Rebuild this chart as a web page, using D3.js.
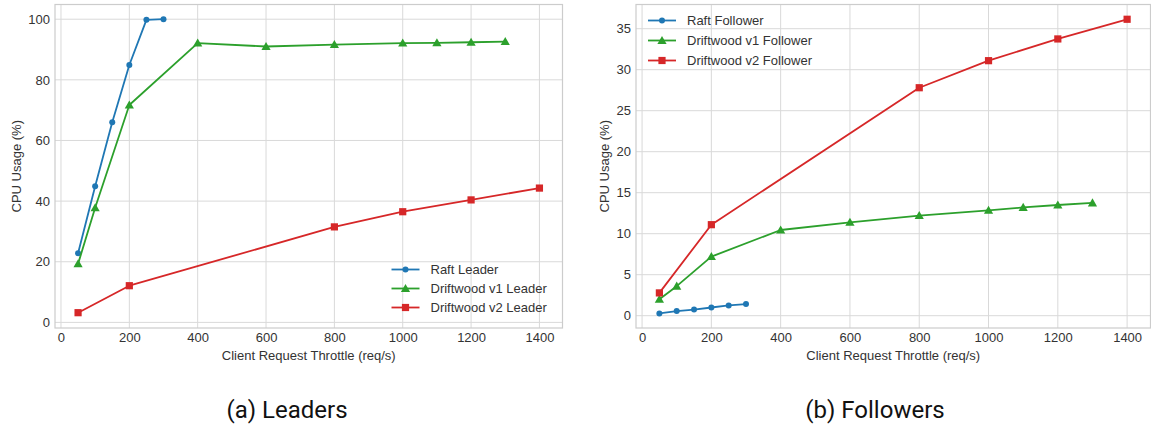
<!DOCTYPE html>
<html><head><meta charset="utf-8">
<script src="https://cdn.jsdelivr.net/npm/d3@7"></script>
<style>
body{margin:0;background:#fff;}
svg{display:block;}
svg text{font-family:"Liberation Sans",Arial,sans-serif;}
svg text.cap{font-family:Roboto,sans-serif;}
</style></head>
<body><svg id="c" width="1151" height="427"></svg>
<script>
// ---- data ----
const xTicks = [0,200,400,600,800,1000,1200,1400];
const leaderYTicks = [0,20,40,60,80,100];
const followerYTicks = [0,5,10,15,20,25,30,35];

const raftLeaderX = [50,100,150,200,250,300];
const raftLeaderY = [22.8,44.9,66.0,84.9,99.8,100.0];
const dw1LeaderX = [50,100,200,400,600,800,1000,1100,1200,1300];
const dw1LeaderY = [19.3,37.8,71.7,92.1,91.0,91.6,92.1,92.2,92.4,92.6];
const dw2LeaderX = [50,200,800,1000,1200,1400];
const dw2LeaderY = [3.2,12.1,31.5,36.5,40.4,44.3];

const raftFollowerX = [50,100,150,200,250,300];
const raftFollowerY = [0.28,0.57,0.75,1.0,1.25,1.42];
const dw1FollowerX = [50,100,200,400,600,800,1000,1100,1200,1300];
const dw1FollowerY = [2.0,3.6,7.2,10.45,11.38,12.2,12.85,13.2,13.5,13.75];
const dw2FollowerX = [50,200,800,1000,1200,1400];
const dw2FollowerY = [2.78,11.1,27.8,31.1,33.75,36.15];

const colors = {raft:"#1f77b4", dw1:"#2ca02c", dw2:"#d62728"};
const FS = 13;

const svg = d3.select("#c");

function marker(g, type, x, y, color){
  if(type==="circle"){
    g.append("circle").attr("cx",x).attr("cy",y).attr("r",3).attr("fill",color);
  } else if(type==="tri"){
    const s=4.6;
    g.append("path").attr("d",`M${x},${y-s}L${x+s},${y+s*0.75}L${x-s},${y+s*0.75}Z`).attr("fill",color);
  } else {
    g.append("rect").attr("x",x-3.6).attr("y",y-3.6).attr("width",7.2).attr("height",7.2).attr("fill",color);
  }
}

function panel(opts){
  const {left,right,top,bottom,yDomain,yTicks,series,legend,ylabelX,caption} = opts;
  const x = d3.scaleLinear().domain([-17.5,1467.5]).range([left,right]);
  const y = d3.scaleLinear().domain(yDomain).range([bottom,top]);
  const g = svg.append("g");
  // grid
  g.append("g").selectAll("line").data(xTicks).join("line")
    .attr("x1",d=>x(d)).attr("x2",d=>x(d)).attr("y1",top).attr("y2",bottom)
    .attr("stroke","#d9d9d9").attr("stroke-width",1);
  g.append("g").selectAll("line").data(yTicks).join("line")
    .attr("y1",d=>y(d)).attr("y2",d=>y(d)).attr("x1",left).attr("x2",right)
    .attr("stroke","#d9d9d9").attr("stroke-width",1);
  // frame
  g.append("rect").attr("x",left).attr("y",top).attr("width",right-left).attr("height",bottom-top)
    .attr("fill","none").attr("stroke","#cccccc").attr("stroke-width",1.2);
  // axes (labels only)
  const xa = g.append("g").attr("transform",`translate(0,${bottom})`)
    .call(d3.axisBottom(x).tickValues(xTicks).tickFormat(d3.format("d")).tickSize(0).tickPadding(5));
  const ya = g.append("g").attr("transform",`translate(${left},0)`)
    .call(d3.axisLeft(y).tickValues(yTicks).tickFormat(d3.format("d")).tickSize(0).tickPadding(5));
  [xa,ya].forEach(a=>{
    a.attr("font-family",null).attr("font-size",null);
    a.select(".domain").remove();
    a.selectAll("text").attr("font-size",FS).attr("fill","#333");
  });
  // lines
  series.forEach(s=>{
    const pts = s.xs.map((v,i)=>[x(v),y(s.ys[i])]);
    g.append("path").attr("d",d3.line()(pts)).attr("fill","none")
      .attr("stroke",s.color).attr("stroke-width",1.8).attr("stroke-linejoin","round").attr("stroke-linecap","round");
    pts.forEach(p=>marker(g,s.marker,p[0],p[1],s.color));
  });
  // axis titles
  g.append("text").attr("x",(left+right)/2).attr("y",bottom+32).attr("text-anchor","middle")
    .attr("font-size",FS).attr("fill","#333").text("Client Request Throttle (req/s)");
  g.append("text").attr("transform",`translate(${ylabelX},${(top+bottom)/2}) rotate(-90)`)
    .attr("text-anchor","middle").attr("font-size",FS).attr("fill","#333").text("CPU Usage (%)");
  // legend
  series.forEach((s,i)=>{
    const ly = legend.y + i*legend.dy;
    g.append("line").attr("x1",legend.x).attr("x2",legend.x+28).attr("y1",ly).attr("y2",ly)
      .attr("stroke",s.color).attr("stroke-width",1.8);
    marker(g,s.marker,legend.x+14,ly,s.color);
    g.append("text").attr("x",legend.x+39).attr("y",ly).attr("dy","0.35em")
      .attr("font-size",FS).attr("fill","#333").text(s.name);
  });
  // caption
  svg.append("text").attr("class","cap").attr("x",caption.x).attr("y",caption.y).attr("text-anchor","middle")
    .attr("font-size",24).attr("fill","#111")
    .text(caption.text);
}

panel({
  left:55, right:562.5, top:4.5, bottom:328,
  yDomain:[-1.85,104.85], yTicks:leaderYTicks, ylabelX:21,
  series:[
    {name:"Raft Leader", xs:raftLeaderX, ys:raftLeaderY, color:colors.raft, marker:"circle"},
    {name:"Driftwood v1 Leader", xs:dw1LeaderX, ys:dw1LeaderY, color:colors.dw1, marker:"tri"},
    {name:"Driftwood v2 Leader", xs:dw2LeaderX, ys:dw2LeaderY, color:colors.dw2, marker:"square"}
  ],
  legend:{x:391.5, y:269.5, dy:19},
  caption:{x:287, y:418, text:"(a) Leaders"}
});

panel({
  left:636, right:1150.5, top:4.5, bottom:328,
  yDomain:[-1.5,37.95], yTicks:followerYTicks, ylabelX:609,
  series:[
    {name:"Raft Follower", xs:raftFollowerX, ys:raftFollowerY, color:colors.raft, marker:"circle"},
    {name:"Driftwood v1 Follower", xs:dw1FollowerX, ys:dw1FollowerY, color:colors.dw1, marker:"tri"},
    {name:"Driftwood v2 Follower", xs:dw2FollowerX, ys:dw2FollowerY, color:colors.dw2, marker:"square"}
  ],
  legend:{x:648, y:20.5, dy:20},
  caption:{x:875, y:418, text:"(b) Followers"}
});
</script></body></html>
